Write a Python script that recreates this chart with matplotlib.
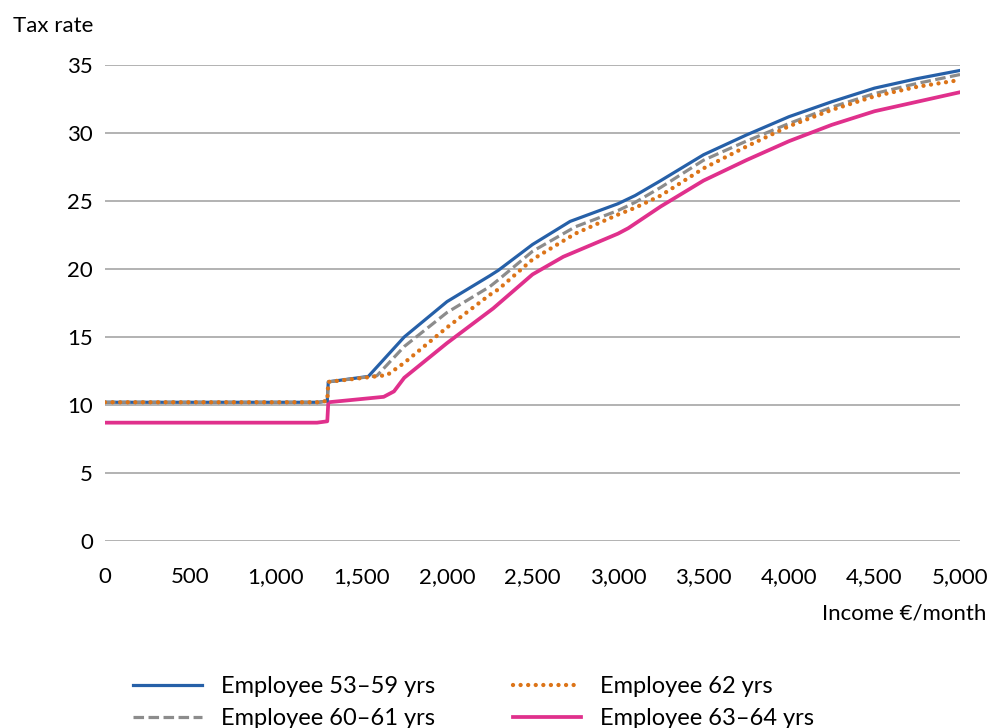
import matplotlib
matplotlib.use("Agg")
import matplotlib.pyplot as plt
from matplotlib.ticker import FuncFormatter

plt.rcParams["font.family"] = ["Lato", "DejaVu Sans"]

# Income (€/month) and tax rate (%)
income_53_59 = [0, 1250, 1300, 1306, 1540, 1750, 2000, 2250, 2300, 2500, 2720,
                3000, 3100, 3250, 3500, 3750, 4000, 4250, 4500, 4750, 5000]
rate_53_59 = [10.2, 10.2, 10.3, 11.7, 12.1, 15.0, 17.6, 19.5, 19.9, 21.8, 23.5,
              24.8, 25.4, 26.5, 28.4, 29.85, 31.2, 32.3, 33.3, 34.0, 34.6]

income_60_61 = [0, 1250, 1300, 1306, 1590, 1750, 2000, 2250, 2300, 2500, 2750,
                3000, 3100, 3250, 3500, 3750, 4000, 4250, 4500, 4750, 5000]
rate_60_61 = [10.2, 10.2, 10.3, 11.7, 12.15, 14.3, 16.8, 18.7, 19.2, 21.3, 23.1,
              24.3, 24.9, 26.0, 28.0, 29.4, 30.7, 31.9, 32.9, 33.65, 34.3]

income_62 = [0, 1250, 1300, 1306, 1650, 1750, 2000, 2250, 2300, 2500, 2750,
             3000, 3100, 3250, 3500, 3750, 4000, 4250, 4500, 4750, 5000]
rate_62 = [10.2, 10.2, 10.3, 11.7, 12.2, 13.1, 15.7, 18.1, 18.5, 20.7, 22.6,
           24.0, 24.5, 25.4, 27.4, 29.0, 30.5, 31.7, 32.7, 33.4, 33.9]

income_63_64 = [0, 1240, 1300, 1306, 1630, 1690, 1750, 2000, 2270, 2500, 2680,
                3000, 3060, 3250, 3500, 3750, 4000, 4250, 4500, 4750, 5000]
rate_63_64 = [8.7, 8.7, 8.8, 10.2, 10.6, 11.0, 12.0, 14.55, 17.1, 19.6, 20.9,
              22.6, 23.0, 24.6, 26.5, 28.0, 29.4, 30.6, 31.6, 32.3, 33.0]

x_ticks = [0, 500, 1000, 1500, 2000, 2500, 3000, 3500, 4000, 4500, 5000]
y_ticks = [0, 5, 10, 15, 20, 25, 30, 35]

fig = plt.figure(figsize=(9.93, 7.28), dpi=100)
ax = fig.add_axes([0.1057, 0.2569, 0.8611, 0.6538])

ax.plot(income_53_59, rate_53_59, color="#2660A8", lw=2.3,
        label="Employee 53–59 yrs", zorder=3)
ax.plot(income_60_61, rate_60_61, color="#8C8C8C", lw=2.3,
        dashes=(3.3, 1.4), label="Employee 60–61 yrs", zorder=3)
ax.plot(income_62, rate_62, color="#DC7418", lw=3.1,
        linestyle=(0, (0.01, 1.75)), dash_capstyle="round",
        label="Employee 62 yrs", zorder=4)
ax.plot(income_63_64, rate_63_64, color="#E0308C", lw=2.7,
        label="Employee 63–64 yrs", zorder=2)

ax.set_xlim(0, 5000)
ax.set_ylim(0, 35)
ax.set_xticks(x_ticks)
ax.set_yticks(y_ticks)
ax.xaxis.set_major_formatter(FuncFormatter(lambda v, p: f"{int(v):,}"))
ax.tick_params(axis="both", length=0, labelsize=16, colors="black")
ax.tick_params(axis="x", pad=19)
ax.tick_params(axis="y", pad=8.6)
ax.grid(axis="y", color="#A6A6A6", lw=1.2)
ax.set_axisbelow(True)
for s in ax.spines.values():
    s.set_visible(False)

fig.text(13 / 993, 1 - 32 / 728, "Tax rate", fontsize=16,
         va="baseline", ha="left")
fig.text(986 / 993, 1 - 619 / 728, "Income €/month", fontsize=16,
         va="baseline", ha="right")

fig.legend(loc="upper left", bbox_to_anchor=(112 / 993, 1 - 655 / 728),
           ncol=2, frameon=False, fontsize=17, handlelength=2.9,
           handletextpad=0.8, columnspacing=3.3, labelspacing=0.45)

fig.savefig("out.png", dpi=100)
